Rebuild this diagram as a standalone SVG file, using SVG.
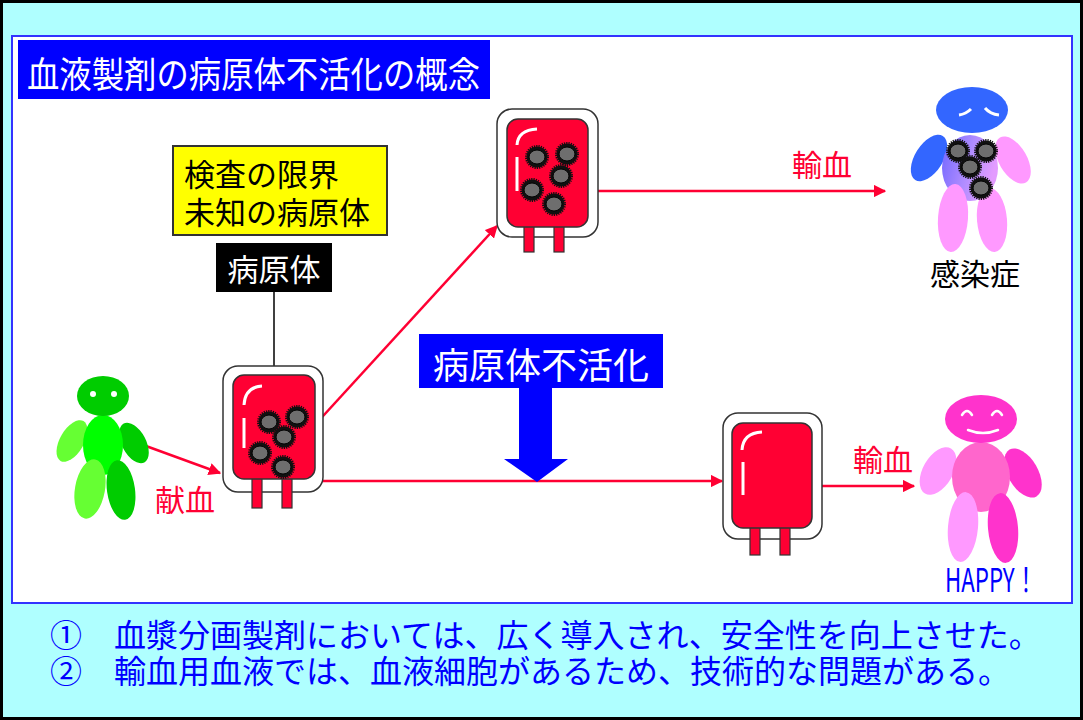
<svg xmlns="http://www.w3.org/2000/svg" xmlns:xlink="http://www.w3.org/1999/xlink" width="1083" height="720" viewBox="0 0 1083 720">
  <style>
    .jp { font-family: "Noto Sans CJK JP", "Noto Sans", sans-serif; }
    .bag-outer { fill: #ffffff; stroke: #333333; stroke-width: 1.5; }
    .bag-inner { fill: #ff0033; stroke: #333333; stroke-width: 1.5; }
    .tube { fill: #ff0033; stroke: #333333; stroke-width: 1.2; }
    .shine { fill: none; stroke: #ffffff; stroke-width: 3; stroke-linecap: butt; }
    .flow { fill: none; stroke: #ff0033; stroke-width: 2.5; }
    .red-label { fill: #ff0033; font-size: 30px; text-anchor: middle; }
    .face { fill: none; stroke: #ffffff; stroke-width: 2.5; stroke-linecap: round; }
  </style>
  <defs>
    <marker id="arrow" viewBox="0 0 10 10" refX="9" refY="5" markerWidth="5" markerHeight="5" orient="auto" markerUnits="strokeWidth">
      <path d="M0,0 L10,5 L0,10 z" fill="#ff0033"/>
    </marker>
    <!-- spiky pathogen particle -->
    <g id="germ">
      <circle r="10.5" fill="#111111" stroke="#111111" stroke-width="3" stroke-dasharray="1.2 1"/>
      <ellipse rx="8" ry="7" fill="#6e6e6e" stroke="#000000" stroke-width="1"/>
    </g>
    <linearGradient id="sickBody" x1="0" y1="0" x2="1" y2="0.3">
      <stop offset="0" stop-color="#6f66ff"/>
      <stop offset="0.55" stop-color="#b08cff"/>
      <stop offset="1" stop-color="#e39cff"/>
    </linearGradient>
  </defs>

  <!-- slide background -->
  <rect x="1.5" y="1.5" width="1080" height="717" fill="#afffff" stroke="#000000" stroke-width="3"/>
  <rect x="12" y="36" width="1060" height="567" fill="#ffffff" stroke="#3333ff" stroke-width="2"/>

  <!-- title -->
  <g id="title">
    <rect x="18" y="40" width="472" height="59" fill="#0000ff"/>
    <text class="jp" x="27" y="88" font-size="36" fill="#ffffff" textLength="453" lengthAdjust="spacingAndGlyphs">血液製剤の病原体不活化の概念</text>
  </g>

  <!-- connectors -->
  <g id="connectors">
    <line class="flow" x1="135" y1="442" x2="220" y2="473" marker-end="url(#arrow)"/>
    <line class="flow" x1="313" y1="427" x2="497" y2="226" marker-end="url(#arrow)"/>
    <line class="flow" x1="588" y1="191" x2="885" y2="191" marker-end="url(#arrow)"/>
    <line class="flow" x1="305" y1="481" x2="722" y2="481" marker-end="url(#arrow)"/>
    <line class="flow" x1="812" y1="486" x2="914" y2="486" marker-end="url(#arrow)"/>
    <line x1="274" y1="292" x2="274" y2="418" stroke="#000000" stroke-width="1.5"/>
  </g>

  <!-- donor -->
  <g id="donor">
    <ellipse cx="72" cy="441" rx="12" ry="23" fill="#66ff33" transform="rotate(30 72 441)"/>
    <ellipse cx="134" cy="443" rx="12" ry="22" fill="#00cc00" transform="rotate(-28 134 443)"/>
    <ellipse cx="103" cy="445" rx="20" ry="30" fill="#00ff00"/>
    <ellipse cx="90" cy="489" rx="15" ry="30" fill="#66ff33" transform="rotate(10 90 489)"/>
    <ellipse cx="121" cy="490" rx="14" ry="30" fill="#00cc00" transform="rotate(-8 121 490)"/>
    <ellipse cx="103" cy="396" rx="26" ry="20" fill="#00cc00"/>
    <circle cx="93" cy="394" r="3" fill="#ffffff"/>
    <circle cx="114" cy="394" r="3" fill="#ffffff"/>
  </g>

  <!-- donated bag with pathogens -->
  <g id="bag-donated">
    <rect class="bag-outer" x="223" y="366" width="100" height="126" rx="15"/>
    <rect class="tube" x="252" y="478" width="10" height="30"/>
    <rect class="tube" x="282" y="478" width="10" height="30"/>
    <rect class="bag-inner" x="233" y="375" width="82" height="104" rx="11"/>
    <path class="shine" d="M244,405 Q245,387 262,386"/>
    <line class="shine" x1="244" y1="418" x2="244" y2="448"/>
    <use href="#germ" x="269" y="422"/>
    <use href="#germ" x="297" y="417"/>
    <use href="#germ" x="284" y="437"/>
    <use href="#germ" x="260" y="453"/>
    <use href="#germ" x="283" y="467"/>
  </g>

  <!-- untreated bag -->
  <g id="bag-untreated">
    <rect class="bag-outer" x="497" y="109" width="101" height="128" rx="15"/>
    <rect class="tube" x="524" y="226" width="10" height="26"/>
    <rect class="tube" x="554" y="226" width="10" height="26"/>
    <rect class="bag-inner" x="507" y="119" width="81" height="108" rx="11"/>
    <path class="shine" d="M517,145 Q518,130 537,129"/>
    <line class="shine" x1="517" y1="157" x2="517" y2="191"/>
    <use href="#germ" x="537" y="157"/>
    <use href="#germ" x="567" y="154"/>
    <use href="#germ" x="561" y="176"/>
    <use href="#germ" x="532" y="190"/>
    <use href="#germ" x="554" y="204"/>
  </g>

  <!-- treated bag -->
  <g id="bag-treated">
    <rect class="bag-outer" x="723" y="413" width="99" height="126" rx="15"/>
    <rect class="tube" x="750" y="527" width="10" height="28"/>
    <rect class="tube" x="780" y="527" width="10" height="28"/>
    <rect class="bag-inner" x="732" y="423" width="80" height="105" rx="11"/>
    <path class="shine" d="M742,450 Q743,433 762,432"/>
    <line class="shine" x1="743" y1="462" x2="743" y2="495"/>
  </g>

  <!-- infected recipient -->
  <g id="recipient-infected">
    <ellipse cx="929" cy="158" rx="14" ry="26" fill="#3366ff" transform="rotate(32 929 158)"/>
    <ellipse cx="1013" cy="160" rx="14" ry="26" fill="#ff99ff" transform="rotate(-30 1013 160)"/>
    <ellipse cx="970" cy="168" rx="28" ry="33" fill="url(#sickBody)"/>
    <ellipse cx="953" cy="218" rx="15" ry="34" fill="#ff99ff" transform="rotate(4 953 218)"/>
    <ellipse cx="992" cy="220" rx="15" ry="32" fill="#ff99ff" transform="rotate(-5 992 220)"/>
    <ellipse cx="972" cy="110" rx="36" ry="23" fill="#3366ff"/>
    <path d="M959,115 Q966,114 971,109" fill="none" stroke="#ffffff" stroke-width="3"/>
    <path d="M985,108 Q990,114 999,115" fill="none" stroke="#ffffff" stroke-width="3"/>
    <use href="#germ" x="958" y="151"/>
    <use href="#germ" x="986" y="151"/>
    <use href="#germ" x="970" y="167"/>
    <use href="#germ" x="981" y="188"/>
    <text class="jp" x="975" y="285" font-size="30" fill="#000000" text-anchor="middle">感染症</text>
  </g>

  <!-- healthy recipient -->
  <g id="recipient-happy">
    <ellipse cx="938" cy="471" rx="15" ry="26" fill="#ff99ff" transform="rotate(30 938 471)"/>
    <ellipse cx="1023" cy="473" rx="15" ry="27" fill="#ff33cc" transform="rotate(-30 1023 473)"/>
    <ellipse cx="981" cy="477" rx="29" ry="35" fill="#ff66cc"/>
    <ellipse cx="963" cy="527" rx="15" ry="35" fill="#ff99ff" transform="rotate(5 963 527)"/>
    <ellipse cx="1003" cy="528" rx="15" ry="35" fill="#ff33cc" transform="rotate(-5 1003 528)"/>
    <ellipse cx="981" cy="419" rx="36" ry="24" fill="#ff33cc"/>
    <path class="face" d="M962,415 Q967,407 972,415"/>
    <path class="face" d="M992,415 Q997,407 1002,415"/>
    <path class="face" d="M968,430 Q983,436 998,430"/>
    <text class="jp" x="945" y="592" font-size="33" fill="#0000ff" textLength="92" lengthAdjust="spacingAndGlyphs">HAPPY！</text>
  </g>

  <!-- annotation boxes -->
  <g id="note-limits">
    <rect x="173" y="146" width="214" height="89" fill="#ffff00" stroke="#333333" stroke-width="2"/>
    <text class="jp" x="184" y="186" font-size="31" fill="#000000">検査の限界</text>
    <text class="jp" x="184" y="224" font-size="31" fill="#000000">未知の病原体</text>
  </g>

  <g id="label-pathogen">
    <rect x="216" y="243" width="116" height="49" fill="#000000"/>
    <text class="jp" x="274" y="281" font-size="31" fill="#ffffff" text-anchor="middle">病原体</text>
  </g>

  <g id="inactivation">
    <rect x="419" y="334" width="244" height="54" fill="#0000ff"/>
    <text class="jp" x="541" y="379" font-size="36" fill="#ffffff" text-anchor="middle">病原体不活化</text>
    <path d="M519,388 H552 V459 H568 L537,482 L504,459 H519 Z" fill="#0000ff"/>
  </g>

  <!-- flow labels -->
  <g id="flow-labels">
    <text class="jp red-label" x="185" y="511">献血</text>
    <text class="jp red-label" x="822" y="176">輸血</text>
    <text class="jp red-label" x="883" y="471">輸血</text>
  </g>

  <!-- summary notes -->
  <g id="summary" class="jp" font-size="32" fill="#0000ff">
    <text x="50" y="647">①　血漿分画製剤においては、広く導入され、安全性を向上させた。</text>
    <text x="50" y="683">②　輸血用血液では、血液細胞があるため、技術的な問題がある。</text>
  </g>
</svg>
